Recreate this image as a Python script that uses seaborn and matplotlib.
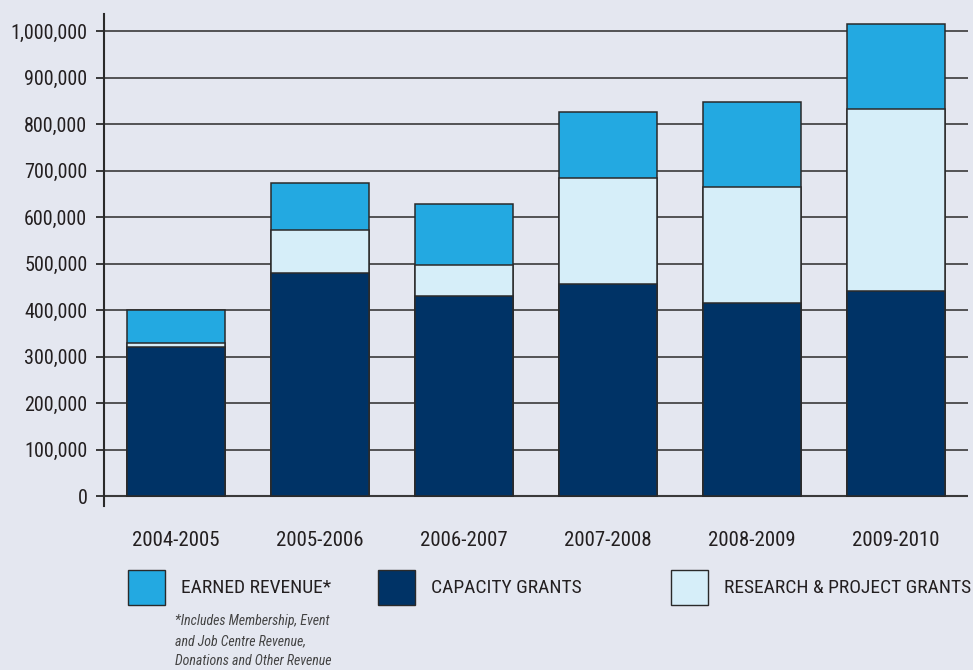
import matplotlib
matplotlib.use("Agg")
import matplotlib.pyplot as plt
from matplotlib.patches import Rectangle
import seaborn as sns
import numpy as np
import pandas as pd

years = ["2004-2005", "2005-2006", "2006-2007", "2007-2008", "2008-2009", "2009-2010"]
capacity_grants = [321000, 479000, 430000, 456000, 414000, 441000]
research_grants = [9000, 92000, 67000, 228000, 251000, 391000]
earned_revenue = [69000, 103000, 132000, 141000, 183000, 184000]
yticks = [0, 100000, 200000, 300000, 400000, 500000, 600000, 700000, 800000, 900000, 1000000]

c_earned = "#23A9E1"
c_capacity = "#003366"
c_research = "#D6EEF9"
bg = "#E4E7F0"

sns.set_theme(style="white")
plt.rcParams['font.family'] = ['Roboto Condensed', 'Liberation Sans', 'DejaVu Sans']

df = pd.DataFrame({
    "year": years,
    "capacity": capacity_grants,
    "research": research_grants,
    "earned": earned_revenue,
})
df["cap_res"] = df["capacity"] + df["research"]
df["total"] = df["cap_res"] + df["earned"]

fig = plt.figure(figsize=(9.73, 6.70), dpi=100)
fig.patch.set_facecolor(bg)
ax = fig.add_axes([104/973, 1-506/670, (968-104)/973, (506-14)/670])
ax.set_facecolor(bg)

for col, color in [("total", c_earned), ("cap_res", c_research), ("capacity", c_capacity)]:
    sns.barplot(data=df, x="year", y=col, color=color, width=0.68,
                edgecolor="#2a2a2a", linewidth=1.1, saturation=1, ax=ax, zorder=3)

ax.set_xlim(-0.5, 5.5)
ax.set_ylim(-21500, 1036600)
ax.set_yticks(yticks)
ax.set_yticklabels([f"{v:,}" for v in yticks], fontsize=14.5, color="#231f20")
ax.tick_params(axis="y", length=6, width=1.3, color="#2a2a2a", pad=6, left=True)
ax.tick_params(axis="x", length=0, pad=18, labelsize=15, labelcolor="#231f20")
ax.set_xlabel("")
ax.set_ylabel("")
for v in yticks:
    ax.axhline(v, color="#3a3a3a", lw=1.5 if v == 0 else 1.2, zorder=1)
for s in ["top", "right", "bottom"]:
    ax.spines[s].set_visible(False)
ax.spines["left"].set_color("#2a2a2a")
ax.spines["left"].set_linewidth(1.5)

# legend
items = [(128, c_earned, "EARNED REVENUE*"), (378, c_capacity, "CAPACITY GRANTS"),
         (671, c_research, "RESEARCH & PROJECT GRANTS")]
for x0, color, label in items:
    fig.patches.append(Rectangle((x0/973, 1-605/670), 37/973, 35/670, transform=fig.transFigure,
                                 facecolor=color, edgecolor="#2a2a2a", linewidth=1))
    fig.text((x0+53)/973, 1-588/670, label, fontsize=14, color="#231f20", va="center", ha="left")

notes = ["*Includes Membership, Event", "and Job Centre Revenue,", "Donations and Other Revenue"]
for i, line in enumerate(notes):
    fig.text(175/973, 1-(621+20*i)/670, line, fontsize=10, style="italic", color="#444444",
             va="center", ha="left")

fig.savefig("out.png", dpi=100, facecolor=bg)
